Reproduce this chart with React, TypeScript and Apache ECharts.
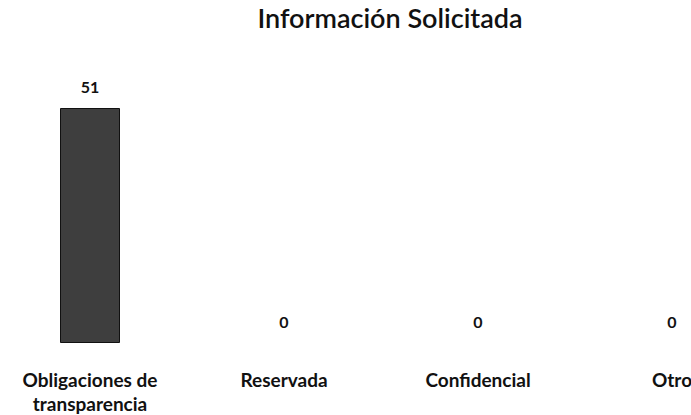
import React, { useEffect, useRef } from "react";
import * as echarts from "echarts";

const titleText = "Información Solicitada";
const categories = ["Obligaciones de\ntransparencia", "Reservada", "Confidencial", "Otro"];
const values = [51, 0, 0, 0];

export default function App() {
  const ref = useRef<HTMLDivElement>(null);
  useEffect(() => {
    if (!ref.current) return;
    const chart = echarts.init(ref.current, null, { renderer: "svg" });
    const font = "Lato, 'Open Sans', sans-serif";
    chart.setOption({
      animation: false,
      backgroundColor: "#ffffff",
      title: {
        text: titleText,
        left: 392,
        top: -1,
        textAlign: "center",
        textStyle: { fontFamily: font, fontSize: 27, fontWeight: 600, color: "#111" },
      },
      grid: { left: 0, width: 776, top: 108, height: 239, containLabel: false },
      xAxis: {
        type: "category",
        data: categories,
        axisLine: { show: false },
        axisTick: { show: false },
        axisLabel: {
          interval: 0,
          margin: 24,
          fontFamily: font,
          fontSize: 19,
          fontWeight: "bold",
          color: "#111",
          lineHeight: 24,
          verticalAlign: "top",
        },
      },
      yAxis: {
        type: "value",
        min: 0,
        max: 51,
        show: false,
        splitLine: { show: false },
      },
      series: [
        {
          type: "bar",
          data: values.map((v) => ({
            value: v,
            itemStyle: v > 0 ? { borderColor: "#111", borderWidth: 1 } : { borderWidth: 0 },
          })),
          barWidth: 60,
          itemStyle: { color: "#3e3e3e" },
          label: {
            show: true,
            position: "top",
            distance: 14,
            fontFamily: font,
            fontSize: 16,
            fontWeight: "bold",
            color: "#111",
          },
        },
      ],
    });
    return () => chart.dispose();
  }, []);
  return (
    <div style={{ position: "fixed", left: 0, top: 0, width: 691, height: 415, overflow: "hidden", background: "#fff" }}>
      <div
        ref={ref}
        style={{ position: "absolute", left: -7, top: 0, width: 776, height: 415 }}
      />
    </div>
  );
}
